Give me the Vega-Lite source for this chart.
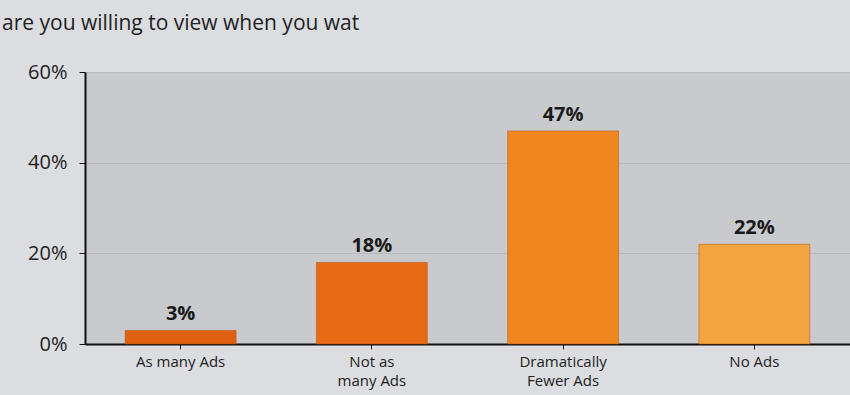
{
  "$schema": "https://vega.github.io/schema/vega-lite/v6.json",
  "width": 765,
  "height": 272,
  "autosize": {"type": "none"},
  "padding": {"left": 85, "top": 72, "right": 0, "bottom": 51},
  "background": "#dcdde1",
  "title": {
    "text": "are you willing to view when you wat",
    "anchor": "start",
    "align": "left",
    "frame": "group",
    "dx": -83,
    "offset": 28,
    "fontSize": 21,
    "font": "Open Sans",
    "fontWeight": "normal",
    "color": "#222222"
  },
  "config": {
    "view": {"fill": "#c9cace", "stroke": null},
    "font": "Open Sans"
  },
  "data": {
    "values": [
      {"category": "As many Ads", "value": 3, "pct": "3%", "color": "#e0600f"},
      {"category": "Not as many Ads", "value": 18, "pct": "18%", "color": "#e96a14"},
      {"category": "Dramatically Fewer Ads", "value": 47, "pct": "47%", "color": "#f0861f"},
      {"category": "No Ads", "value": 22, "pct": "22%", "color": "#f2a43e"}
    ]
  },
  "encoding": {
    "x": {
      "field": "category",
      "type": "nominal",
      "sort": null,
      "scale": {"paddingInner": 0.42, "paddingOuter": 0.21},
      "axis": {
        "title": null,
        "labelAngle": 0,
        "labelExpr": "datum.value == 'Not as many Ads' ? ['Not as','many Ads'] : datum.value == 'Dramatically Fewer Ads' ? ['Dramatically','Fewer Ads'] : datum.value",
        "labelFontSize": 15,
        "labelLineHeight": 19,
        "labelColor": "#222222",
        "labelPadding": 5,
        "domainColor": "#111111",
        "domainWidth": 2,
        "tickColor": "#111111",
        "tickSize": 5
      }
    },
    "y": {
      "field": "value",
      "type": "quantitative",
      "scale": {"domain": [0, 60]},
      "axis": {
        "title": null,
        "values": [0, 20, 40, 60],
        "labelExpr": "datum.value + '%'",
        "labelFontSize": 20,
        "labelColor": "#222222",
        "labelPadding": 12,
        "domainColor": "#111111",
        "domainWidth": 2,
        "tickColor": "#111111",
        "tickSize": 6,
        "gridColor": "#b8b9bd",
        "gridWidth": 1
      }
    }
  },
  "layer": [
    {
      "mark": {"type": "bar", "stroke": "#b05010", "strokeWidth": 0.5},
      "encoding": {
        "color": {"field": "color", "type": "nominal", "scale": null}
      }
    },
    {
      "mark": {"type": "text", "dy": -16, "fontSize": 20, "fontWeight": "bold", "color": "#1a1a1a"},
      "encoding": {
        "text": {"field": "pct", "type": "nominal"}
      }
    }
  ]
}
